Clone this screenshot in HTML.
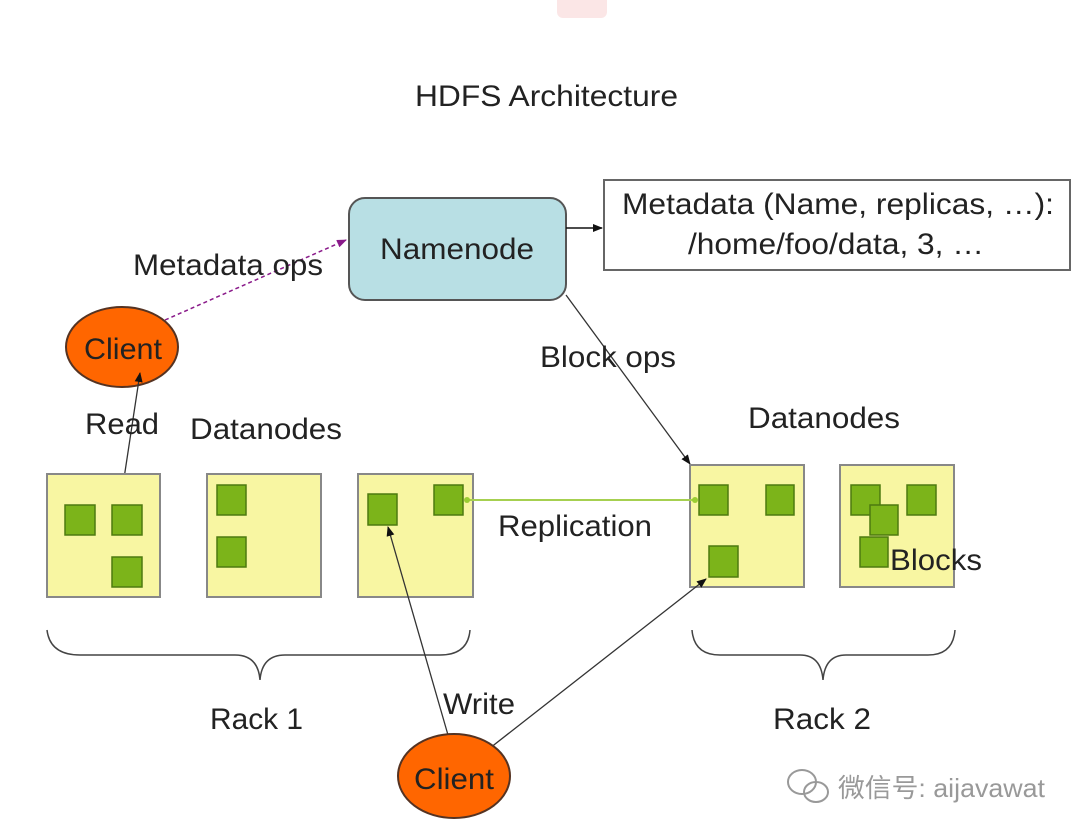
<!DOCTYPE html>
<html><head><meta charset="utf-8"><style>
html,body{margin:0;padding:0;background:#fff;}
svg{display:block;}
text{font-family:"Liberation Sans","Noto Sans CJK SC",sans-serif;fill:#222;}
</style></head><body>
<svg width="1080" height="837" viewBox="0 0 1080 837" xmlns="http://www.w3.org/2000/svg">
<defs>
<marker id="ab" markerWidth="10" markerHeight="10" refX="9" refY="5" orient="auto" markerUnits="userSpaceOnUse"><path d="M0,1 L10,5 L0,9 z" fill="#111"/></marker>
<marker id="ap" markerWidth="10" markerHeight="10" refX="9" refY="5" orient="auto" markerUnits="userSpaceOnUse"><path d="M0,1 L10,5 L0,9 z" fill="#8a1a8a"/></marker>
<marker id="ag" markerWidth="8" markerHeight="8" refX="4" refY="4" orient="auto" markerUnits="userSpaceOnUse"><circle cx="4" cy="4" r="3" fill="#9acd32"/></marker>
</defs>
<rect x="557" y="-10" width="50" height="28" rx="6" fill="#fbe6e6"/>
<text x="415" y="106" font-size="30" textLength="263" lengthAdjust="spacingAndGlyphs">HDFS Architecture</text>

<rect x="349" y="198" width="217" height="102" rx="16" fill="#b8dfe4" stroke="#555" stroke-width="2"/>
<text x="380" y="259" font-size="30" textLength="154" lengthAdjust="spacingAndGlyphs">Namenode</text>
<rect x="604" y="180" width="466" height="90" fill="#fff" stroke="#666" stroke-width="2"/>
<text x="622" y="214" font-size="30" textLength="432" lengthAdjust="spacingAndGlyphs">Metadata (Name, replicas, …):</text>
<text x="688" y="254" font-size="30" textLength="296" lengthAdjust="spacingAndGlyphs">/home/foo/data, 3, …</text>
<line x1="566" y1="228" x2="602" y2="228" stroke="#111" stroke-width="1.5" marker-end="url(#ab)"/>

<line x1="165" y1="320" x2="346" y2="240" stroke="#8a1a8a" stroke-width="1.5" stroke-dasharray="4,3" marker-end="url(#ap)"/>
<text x="133" y="275" font-size="30" textLength="190" lengthAdjust="spacingAndGlyphs">Metadata ops</text>
<ellipse cx="122" cy="347" rx="56" ry="40" fill="#ff6600" stroke="#553322" stroke-width="2"/>
<text x="84" y="359" font-size="30" textLength="78" lengthAdjust="spacingAndGlyphs">Client</text>

<line x1="566" y1="295" x2="690" y2="464" stroke="#333" stroke-width="1.3" marker-end="url(#ab)"/>
<text x="540" y="367" font-size="30" textLength="136" lengthAdjust="spacingAndGlyphs">Block ops</text>

<line x1="123" y1="485" x2="140" y2="373" stroke="#333" stroke-width="1.3" marker-end="url(#ab)"/>
<text x="85" y="434" font-size="30" textLength="74" lengthAdjust="spacingAndGlyphs">Read</text>
<text x="190" y="439" font-size="30" textLength="152" lengthAdjust="spacingAndGlyphs">Datanodes</text>
<text x="748" y="428" font-size="30" textLength="152" lengthAdjust="spacingAndGlyphs">Datanodes</text>

<g fill="#f8f6a2" stroke="#888" stroke-width="2">
<rect x="47" y="474" width="113" height="123"/>
<rect x="207" y="474" width="114" height="123"/>
<rect x="358" y="474" width="115" height="123"/>
<rect x="690" y="465" width="114" height="122"/>
<rect x="840" y="465" width="114" height="122"/>
</g>
<g fill="#7cb41a" stroke="#4d7a10" stroke-width="1.5">
<rect x="65" y="505" width="30" height="30"/>
<rect x="112" y="505" width="30" height="30"/>
<rect x="112" y="557" width="30" height="30"/>
<rect x="217" y="485" width="29" height="30"/>
<rect x="217" y="537" width="29" height="30"/>
<rect x="368" y="494" width="29" height="31"/>
<rect x="434" y="485" width="29" height="30"/>
<rect x="699" y="485" width="29" height="30"/>
<rect x="766" y="485" width="28" height="30"/>
<rect x="709" y="546" width="29" height="31"/>
<rect x="851" y="485" width="29" height="30"/>
<rect x="907" y="485" width="29" height="30"/>
<rect x="860" y="537" width="28" height="30"/>
<rect x="870" y="505" width="28" height="30"/>
</g>
<text x="890" y="570" font-size="30" textLength="92" lengthAdjust="spacingAndGlyphs">Blocks</text>

<line x1="467" y1="500" x2="695" y2="500" stroke="#a6d050" stroke-width="2" marker-start="url(#ag)" marker-end="url(#ag)"/>
<text x="498" y="536" font-size="30" textLength="154" lengthAdjust="spacingAndGlyphs">Replication</text>

<g fill="none" stroke="#444" stroke-width="1.5">
<path d="M47,630 Q50,655 80,655 L235,655 Q258,655 260,680 Q262,655 285,655 L440,655 Q468,655 470,630"/>
<path d="M692,630 Q694,655 720,655 L800,655 Q821,655 823,680 Q825,655 846,655 L928,655 Q953,655 955,630"/>
</g>
<text x="210" y="729" font-size="30" textLength="93" lengthAdjust="spacingAndGlyphs">Rack 1</text>
<text x="773" y="729" font-size="30" textLength="98" lengthAdjust="spacingAndGlyphs">Rack 2</text>

<line x1="448" y1="735" x2="388" y2="527" stroke="#333" stroke-width="1.3" marker-end="url(#ab)"/>
<line x1="490" y1="748" x2="706" y2="579" stroke="#333" stroke-width="1.3" marker-end="url(#ab)"/>
<text x="443" y="714" font-size="30" textLength="72" lengthAdjust="spacingAndGlyphs">Write</text>
<ellipse cx="454" cy="776" rx="56" ry="42" fill="#ff6600" stroke="#553322" stroke-width="2"/>
<text x="414" y="789" font-size="30" textLength="80" lengthAdjust="spacingAndGlyphs">Client</text>

<g fill="none" stroke="#999" stroke-width="2">
<ellipse cx="802" cy="782" rx="14" ry="12"/>
<ellipse cx="816" cy="792" rx="12" ry="10"/>
</g>
<text x="838" y="797" font-size="26" style="fill:#999" textLength="207" lengthAdjust="spacingAndGlyphs">微信号: aijavawat</text>
</svg>
</body></html>
